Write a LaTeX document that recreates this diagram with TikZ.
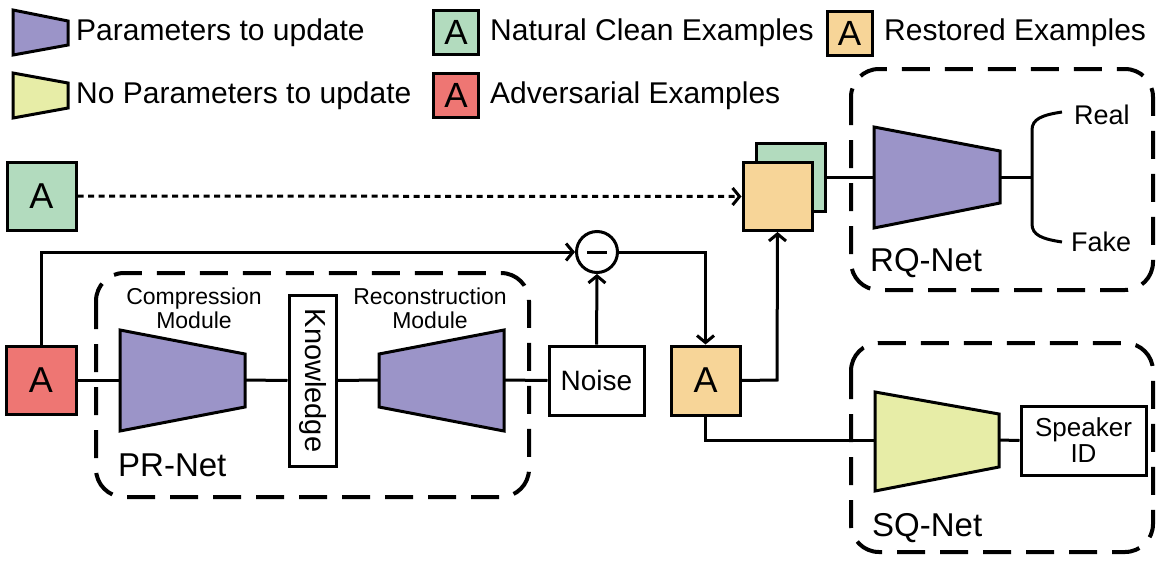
\documentclass[tikz,border=0pt]{standalone}
\usepackage{fontspec}
\setmainfont{Liberation Sans}
\usetikzlibrary{arrows.meta}
\definecolor{cpurple}{RGB}{155,148,200}
\definecolor{cyellow}{RGB}{231,237,167}
\definecolor{cgreen}{RGB}{178,219,190}
\definecolor{cred}{RGB}{238,118,115}
\definecolor{corange}{RGB}{247,213,152}
\begin{document}
\begin{tikzpicture}[x=1pt,y=-1pt,
  abox/.style={draw, line width=3pt, inner sep=0pt, minimum width=69pt, minimum height=68pt, font=\fontsize{36}{36}\selectfont},
  lbox/.style={draw, line width=3pt, inner sep=0pt, minimum width=45pt, minimum height=44pt, font=\fontsize{35}{35}\selectfont},
  wbox/.style={draw, line width=3pt, inner sep=0pt, fill=white},
  trapz/.style={draw, line width=3pt, line join=miter},
  dbox/.style={draw, line width=4pt, dash pattern=on 28pt off 15pt, rounded corners=28pt},
  conn/.style={line width=3pt},
  arr/.style={line width=3pt, -{Straight Barb[length=7pt,width=17pt]}},
  lgtext/.style={inner sep=0pt, anchor=west, font=\fontsize{30}{30}\selectfont},
  nettext/.style={inner sep=0pt, anchor=west, font=\fontsize{33}{33}\selectfont},
  modtext/.style={inner sep=0pt, align=center, font=\fontsize{23}{24}\selectfont},
  outtext/.style={inner sep=0pt, anchor=west, font=\fontsize{27}{27}\selectfont}]
\useasboundingbox (0,0) rectangle (1164,563);

% ---------- legend ----------
\draw[trapz, fill=cpurple] (13,10) -- (68,21) -- (68,45) -- (13,55) -- cycle;
\node[lgtext] (lg1) at (76,33) {Parameters to update};
\draw[trapz, fill=cyellow] (13,73) -- (68,83) -- (68,108) -- (13,118) -- cycle;
\node[lgtext] (lg2) at (76,96) {No Parameters to update};
\node[lbox, fill=cgreen] (lgA1) at (456,32.5) {A};
\node[lgtext] (lg3) at (490,33) {Natural Clean Examples};
\node[lbox, fill=cred] (lgA2) at (456,95.5) {A};
\node[lgtext] (lg4) at (490,96) {Adversarial Examples};
\node[lbox, fill=corange] (lgA3) at (849.5,33) {A};
\node[lgtext] (lg5) at (884,33) {Restored Examples};

% ---------- dashed groups ----------
\draw[dbox] (96,273) rectangle (529,497);
\draw[dbox] (851,69) rectangle (1153,290);
\draw[dbox] (851,343) rectangle (1153,552);
\node[nettext] (prl) at (118,465) {PR-Net};
\node[nettext] (rql) at (870,263) {RQ-Net};
\node[nettext] (sql) at (872,528) {SQ-Net};

% ---------- PR-Net ----------
\node[abox, fill=cred, minimum width=70pt] (advA) at (41,380) {A};
\draw[trapz, fill=cpurple] (120,330) -- (245,354) -- (245,407) -- (120,431) -- cycle;
\coordinate (compL) at (120,380);
\coordinate (compR) at (245,380);
\node[modtext] (compT) at (194,308) {Compression\\Module};
\node[wbox, minimum width=47pt, minimum height=171pt] (know) at (312.5,380.5) {};
\node[inner sep=0pt, rotate=-90, font=\fontsize{29}{29}\selectfont] (knowT) at (know.center) {Knowledge};
\draw[trapz, fill=cpurple] (379,354) -- (504,330) -- (504,431) -- (379,407) -- cycle;
\coordinate (recL) at (379,380);
\coordinate (recR) at (504,380);
\node[modtext] (recT) at (430,308) {Reconstruction\\Module};
\node[wbox, minimum width=95pt, minimum height=69pt, font=\fontsize{28}{28}\selectfont] (noise) at (596.5,380.5) {Noise};

\draw[conn] (advA.east) -- (compL);
\draw[conn] (compR) -- (know.west);
\draw[conn] (know.east) -- (recL);
\draw[conn] (recR) -- (noise.west);

% ---------- subtraction ----------
\node[draw, circle, line width=3pt, minimum size=41pt, inner sep=0pt, fill=white] (minus) at (597,252) {};
\draw[line width=3pt] ([xshift=-10pt]minus.center) -- ([xshift=10pt]minus.center);
\draw[arr] (advA.north) |- (minus.west);
\draw[arr] (noise.north) -- (minus.south);

\node[abox, fill=corange, minimum height=69pt] (resA) at (705.5,380.5) {A};
\draw[arr] (minus.east) -| (resA.north);

% ---------- clean example & stack ----------
\node[abox, fill=cgreen] (cleanA) at (41.5,196) {A};
\node[abox, fill=cgreen] (stackG) at (790.5,177) {};
\node[abox, fill=corange] (stackO) at (777.5,196.5) {};
\draw[arr, dash pattern=on 6pt off 4.5pt] (cleanA.east) -- (stackO.west);
\coordinate (upc) at (777,380);
\draw[arr] (resA.east) -- (upc) -- (stackO.south);

% ---------- RQ-Net ----------
\draw[trapz, fill=cpurple] (874,127) -- (1000,151) -- (1000,203) -- (874,228) -- cycle;
\coordinate (rqL) at (874,177);
\coordinate (rqR) at (1000,177);
\coordinate (brc) at (1032,177);
\draw[conn] (stackG.east |- rqL) -- (rqL);
\draw[conn] (rqR) -- (brc);
\coordinate (brT) at (1062,112);
\coordinate (brB) at (1062,242);
\draw[conn] (brT) .. controls (1042,115) and (1032,119) .. (1032,130) -- (1032,224) .. controls (1032,235) and (1042,239) .. (brB);
\node[outtext] (real) at (1074,115) {Real};
\node[outtext] (fake) at (1071,242) {Fake};

% ---------- SQ-Net ----------
\draw[trapz, fill=cyellow] (875,392) -- (999,414) -- (999,467) -- (875,491) -- cycle;
\coordinate (sqL) at (875,440);
\coordinate (sqR) at (999,440);
\node[wbox, minimum width=125pt, minimum height=69pt, align=center, font=\fontsize{26}{26}\selectfont] (spk) at (1083.5,440.5) {Speaker\\ID};
\draw[conn] (resA.south) |- (sqL);
\draw[conn] (sqR) -- (spk.west);
\end{tikzpicture}
\end{document}
